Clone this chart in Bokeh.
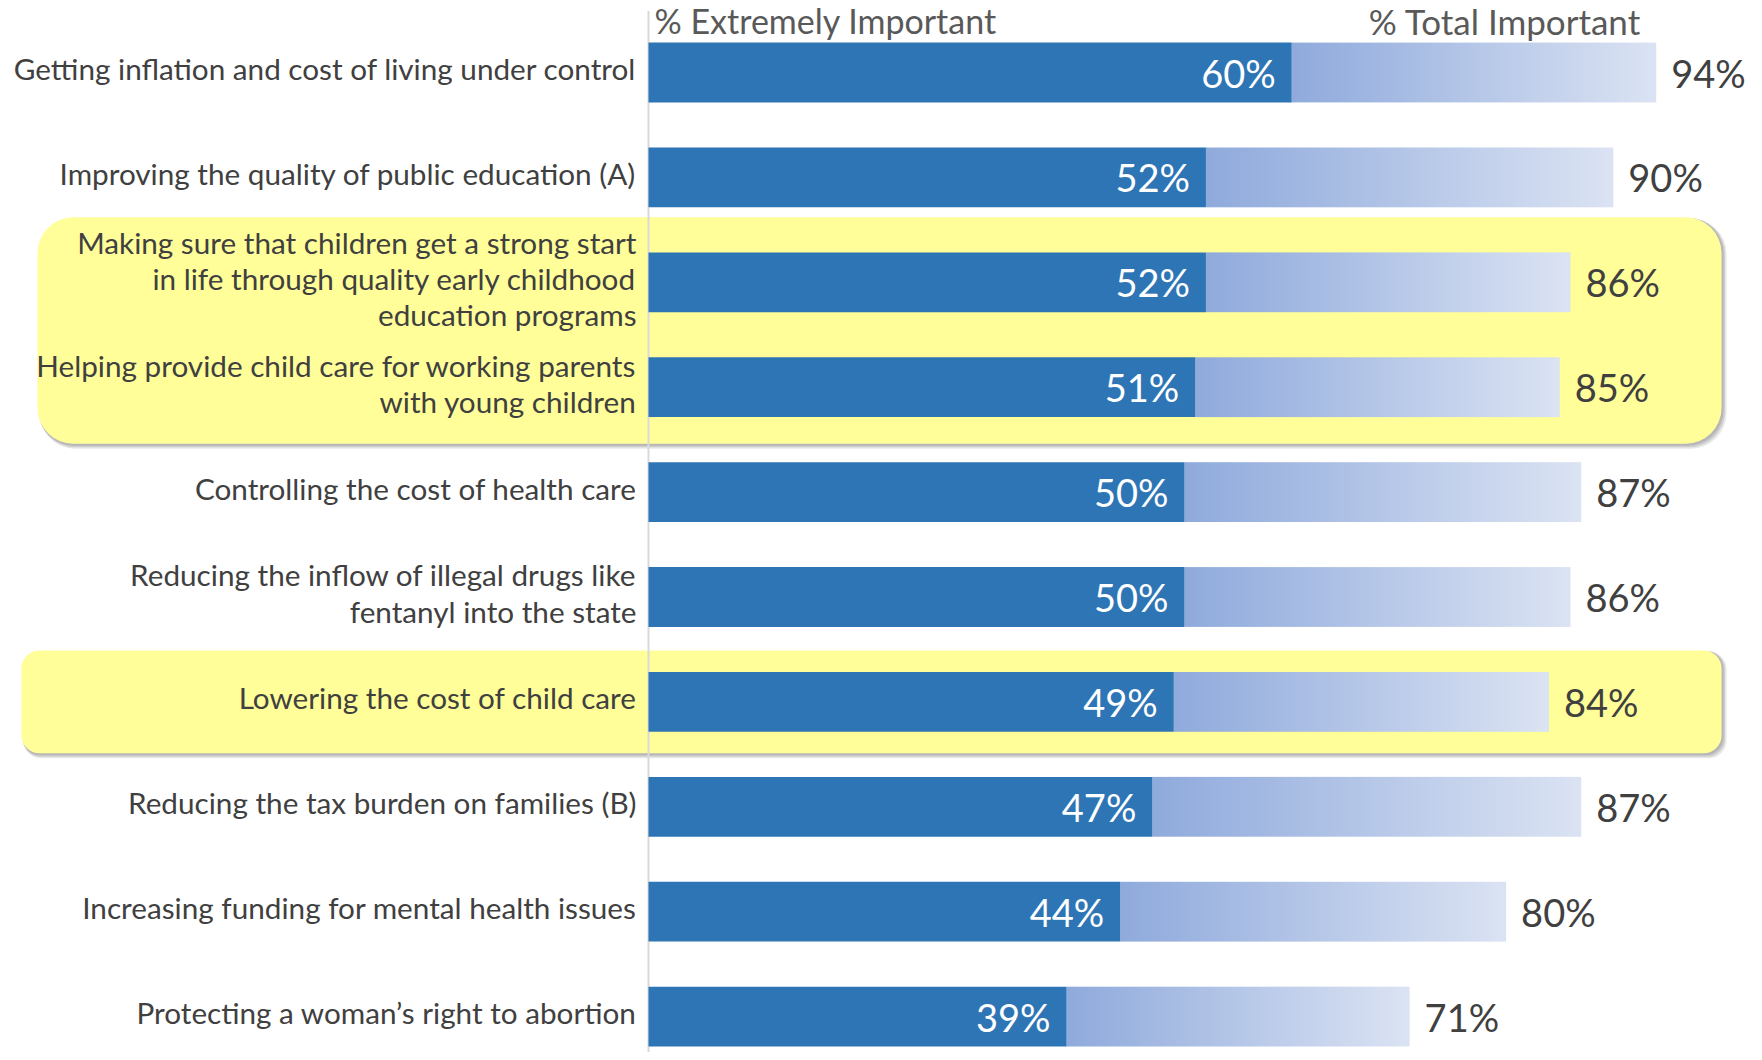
import numpy as np
from bokeh.plotting import figure
from bokeh.models import Range1d, BoxAnnotation
from bokeh.core.properties import value
from bokeh.embed import file_html
from bokeh.resources import INLINE

# ---------------- data ----------------
categories = [
    "Getting inflation and cost of living under control",
    "Improving the quality of public education (A)",
    "Making sure that children get a strong start\nin life through quality early childhood\neducation programs",
    "Helping provide child care for working parents\nwith young children",
    "Controlling the cost of health care",
    "Reducing the inflow of illegal drugs like\nfentanyl into the state",
    "Lowering the cost of child care",
    "Reducing the tax burden on families (B)",
    "Increasing funding for mental health issues",
    "Protecting a woman\u2019s right to abortion",
]
extremely_important = [60, 52, 52, 51, 50, 50, 49, 47, 44, 39]
total_important = [94, 90, 86, 85, 87, 86, 84, 87, 80, 71]
header_extreme = "% Extremely Important"
header_total = "% Total Important"
highlight_groups = [(2, 3), (6, 6)]  # first and last row of each highlighted block

# ---------------- styles ----------------
W, H = 1754, 1052
PX_X = 10.72      # px per percentage point
PX_Y = 104.9      # px per row
X0_PX = 648       # x pixel of 0%
Y0_PX = 72        # y pixel of first row centre
x_start = -X0_PX / PX_X
x_end = (W - X0_PX) / PX_X
y_top = -Y0_PX / PX_Y
y_bottom = (H - Y0_PX) / PX_Y

DARK = "#2E75B6"
GRAD_FROM = (143, 170, 220)
GRAD_TO = (219, 227, 243)
YELLOW = "#FFFE99"
TEXT = "#404040"
HEAD = "#595959"
FONT = value("Lato")
BAR_H = 0.57

box_styles = [
    dict(left=-57.0, pad_top=0.62, pad_bottom=0.54, radius=36),
    dict(left=-58.5, pad_top=0.49, pad_bottom=0.49, radius=18),
]
box_right = 100.1

p = figure(width=W, height=H, x_range=Range1d(x_start, x_end),
           y_range=Range1d(y_bottom, y_top),
           output_backend="svg", toolbar_location=None,
           x_axis_type=None, y_axis_type=None, min_border=0)
p.outline_line_color = None
p.grid.visible = False
p.background_fill_color = "white"
p.border_fill_color = "white"

# highlight boxes with soft shadow
for (r0, r1), st in zip(highlight_groups, box_styles):
    top = r0 - st["pad_top"]
    bottom = r1 + st["pad_bottom"]
    for off, alpha in [(5, 0.18), (3.5, 0.25), (2, 0.3)]:
        dx = off / PX_X
        dy = off / PX_Y
        p.add_layout(BoxAnnotation(left=st["left"] + dx * 0.4, right=box_right + dx,
                                   top=top + dy * 0.2, bottom=bottom + dy,
                                   fill_color="#808080", fill_alpha=alpha,
                                   line_color=None, border_radius=st["radius"],
                                   level="underlay"))
    p.add_layout(BoxAnnotation(left=st["left"], right=box_right, top=top, bottom=bottom,
                               fill_color=YELLOW, fill_alpha=1.0, line_color=None,
                               border_radius=st["radius"], level="underlay"))

# vertical axis line
p.segment(x0=[0], y0=[y_top + 0.1], x1=[0], y1=[y_bottom], line_color="#D9D9D9", line_width=2)

rows = list(range(len(categories)))

# gradient "total" bars (horizontal colour ramp image stretched over each bar)
NG = 256
ramp = np.zeros((1, NG), dtype=np.uint32)
view = ramp.view(dtype=np.uint8).reshape((1, NG, 4))
f = np.linspace(0, 1, NG)
for c in range(3):
    view[0, :, c] = np.round(GRAD_FROM[c] + (GRAD_TO[c] - GRAD_FROM[c]) * f).astype(np.uint8)
view[0, :, 3] = 255
p.image_rgba(image=[ramp] * len(rows), x=extremely_important,
             y=[i - BAR_H / 2 for i in rows],
             dw=[t - e for e, t in zip(extremely_important, total_important)],
             dh=[BAR_H] * len(rows))

# dark bars
p.hbar(y=rows, left=0, right=extremely_important, height=BAR_H,
       fill_color=DARK, line_color=None)

# category labels
p.text(x=[0] * len(rows), y=rows, text=categories, text_align="right",
       text_baseline="middle", x_offset=-12, y_offset=-4, text_font=FONT,
       text_font_size="29.7px", text_color=TEXT, text_line_height=1.03)

# values
p.text(x=extremely_important, y=rows, text=[f"{v}%" for v in extremely_important],
       text_align="right", text_baseline="middle", x_offset=-16, text_font=FONT,
       text_font_size="38px", text_color="white")
p.text(x=total_important, y=rows, text=[f"{v}%" for v in total_important],
       text_align="left", text_baseline="middle", x_offset=15, text_font=FONT,
       text_font_size="38px", text_color=TEXT)

# headers
hy = y_top + 20 / PX_Y
p.text(x=[0], y=[hy], text=[header_extreme], text_align="left", text_baseline="middle",
       x_offset=6, text_font=FONT, text_font_size="34px", text_color=HEAD)
p.text(x=[79.9], y=[hy], text=[header_total], text_align="center", text_baseline="middle",
       text_font=FONT, text_font_size="35px", text_color=HEAD)

open("out.html", "w").write(file_html(p, INLINE))
